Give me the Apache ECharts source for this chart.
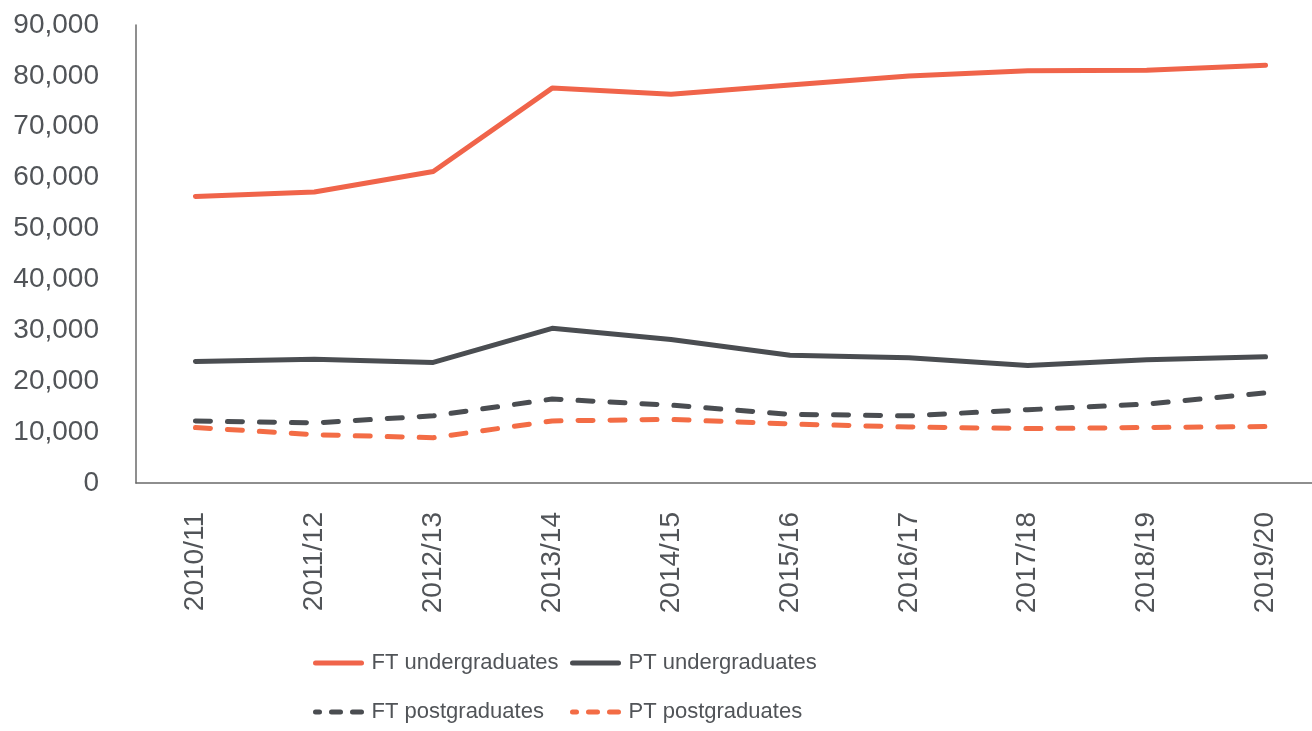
<!DOCTYPE html>
<html>
<head>
<meta charset="utf-8">
<title>Students</title>
<script src="https://cdn.jsdelivr.net/npm/echarts@6/dist/echarts.min.js"></script>
<style>
    html, body { margin: 0; padding: 0; background: #fff; }
    #main { width: 1312px; height: 731px; }
</style>
</head>
<body>
<div id="main"></div>
<script>
//学年
var years = ['2010/11', '2011/12', '2012/13', '2013/14', '2014/15', '2015/16', '2016/17', '2017/18', '2018/19', '2019/20'];

//各类学生人数
var ftUndergrad = [56300, 57200, 61200, 77600, 76400, 78200, 80000, 81000, 81100, 82100];
var ptUndergrad = [23900, 24300, 23700, 30400, 28200, 25100, 24600, 23100, 24200, 24800];
var ftPostgrad = [12200, 11800, 13200, 16500, 15300, 13500, 13200, 14400, 15500, 17700];
var ptPostgrad = [10900, 9500, 8900, 12200, 12500, 11600, 11000, 10700, 10900, 11100];

var names = ['FT undergraduates', 'PT undergraduates', 'FT postgraduates', 'PT postgraduates'];

var orange = '#F0644A', orange2 = '#F36C45', dark = '#4A4D51', textColor = '#515458';
var font = 'Liberation Sans, Arial, Helvetica, sans-serif';

var chart = echarts.init(document.getElementById('main'));

//图例，每项单独定位，保持两列对齐
var legendPos = [[313, 649], [570, 649], [313, 698], [570, 698]];
var legendColor = [orange, dark, dark, orange2];
var legendDash = ['solid', 'solid', [9, 12], [9, 12]];
var legends = names.map(function (n, i) {
    return {
        data: [n]
        , left: legendPos[i][0]
        , top: legendPos[i][1]
        , padding: 0
        , itemWidth: 46
        , itemHeight: 14
        , itemStyle: { opacity: 0 }
        , lineStyle: { width: 5, color: legendColor[i], type: legendDash[i], dashOffset: 5, cap: 'round' }
        , textStyle: { fontSize: 22, color: textColor, fontFamily: font, lineHeight: 28, padding: [0, 0, 0, 5] }
    };
});

function lineSeries(name, data, color, dashed) {
    return {
        name: name
        , type: 'line'
        , data: data
        , symbol: 'none'
        , showSymbol: false
        , animation: false
        , lineStyle: {
            color: color
            , width: 5
            , type: dashed ? [15, 17] : 'solid'
            , cap: 'round'
            , join: 'round'
        }
        , itemStyle: { color: color }
    };
}

chart.setOption({
    backgroundColor: '#fff'
    , animation: false
    , legend: legends
    , grid: { left: 136, right: -13, top: 25, bottom: 248, containLabel: false, outerBoundsMode: 'none' }
    , xAxis: {
        type: 'category'
        , data: years
        , boundaryGap: true
        , axisLine: { lineStyle: { color: '#6a6a6a', width: 1.5 } }
        , axisTick: { alignWithLabel: true, length: 14, lineStyle: { color: '#7a7a7a', width: 1.5 } }
        , axisLabel: { rotate: 90, margin: 29, fontSize: 28, color: textColor, fontFamily: font, interval: 0 }
        , splitLine: { show: false }
    }
    , yAxis: {
        type: 'value'
        , min: 0
        , max: 90000
        , interval: 10000
        , axisLine: { show: true, lineStyle: { color: '#6a6a6a', width: 1.5 } }
        , axisTick: { show: false }
        , splitLine: { show: false }
        , axisLabel: {
            margin: 37
            , fontSize: 28
            , color: textColor
            , fontFamily: font
            , formatter: function (v) { return v.toLocaleString('en-US'); }
        }
    }
    , series: [
        lineSeries(names[0], ftUndergrad, orange, false)
        , lineSeries(names[1], ptUndergrad, dark, false)
        , lineSeries(names[2], ftPostgrad, dark, true)
        , lineSeries(names[3], ptPostgrad, orange2, true)
    ]
});
</script>
</body>
</html>
